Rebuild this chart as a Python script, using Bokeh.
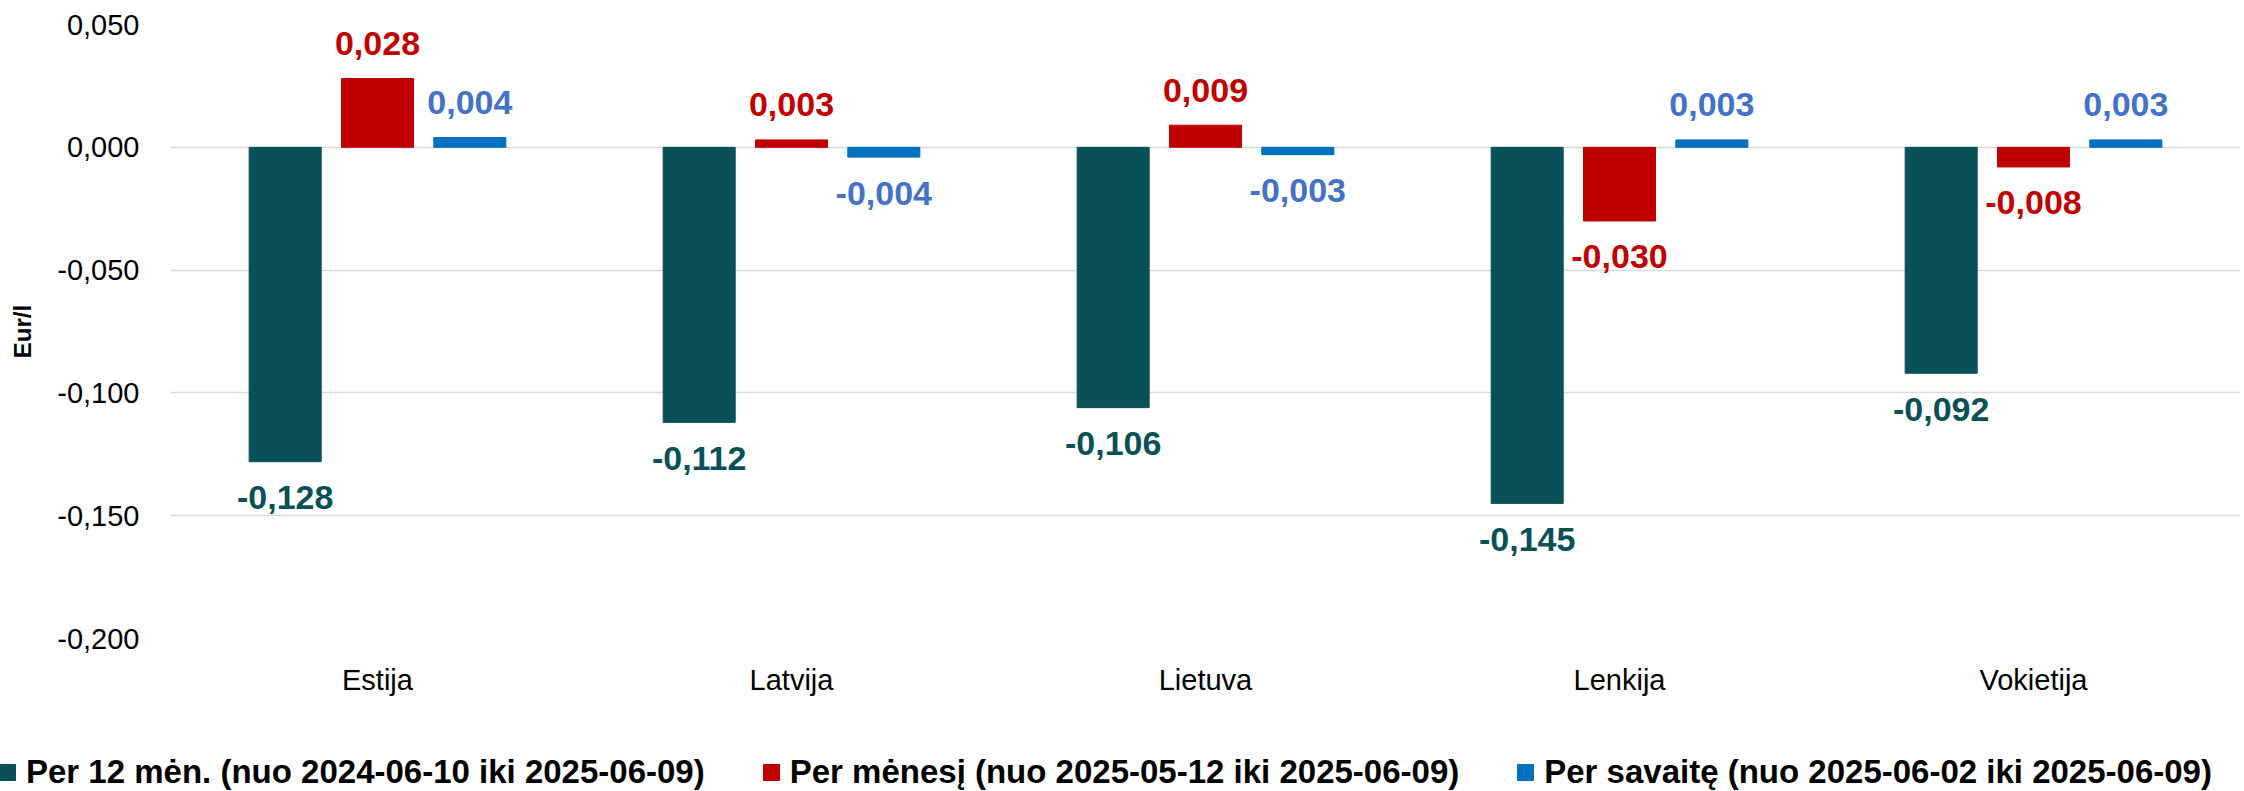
from bokeh.plotting import figure
from bokeh.layouts import column
from bokeh.models import (ColumnDataSource, FactorRange, Range1d, FixedTicker,
                          CustomJSTickFormatter, Legend, LegendItem)
from bokeh.transform import dodge
from bokeh.core.properties import value
from bokeh.embed import file_html
from bokeh.resources import INLINE

categories = ["Estija", "Latvija", "Lietuva", "Lenkija", "Vokietija"]
per_12_men = [-0.128, -0.112, -0.106, -0.145, -0.092]
per_menesi = [0.028, 0.003, 0.009, -0.030, -0.008]
per_savaite = [0.004, -0.004, -0.003, 0.003, 0.003]
series_names = [
    "Per 12 mėn. (nuo 2024-06-10 iki 2025-06-09)",
    "Per mėnesį (nuo 2025-05-12 iki 2025-06-09)",
    "Per savaitę (nuo 2025-06-02 iki 2025-06-09)",
]
y_ticks = [-0.2, -0.15, -0.1, -0.05, 0.0, 0.05]
y_label = "Eur/l"

bar_colors = ["#0A5057", "#C00000", "#0070C0"]
label_colors = ["#0A5057", "#C00000", "#4472C4"]
offsets = [-0.223, 0.0, 0.223]
BAR_W = 0.174
FONT = "Liberation Sans"
W = 2240

p = figure(x_range=FactorRange(*categories), y_range=Range1d(-0.2, 0.05),
           width=W, height=700, output_backend="svg", toolbar_location=None,
           min_border_top=24, min_border_left=170, min_border_right=0,
           min_border_bottom=62)

all_series = [per_12_men, per_menesi, per_savaite]
for i, vals in enumerate(all_series):
    src = ColumnDataSource(dict(
        cat=categories, val=vals,
        lbl=[f"{v:.3f}".replace(".", ",") for v in vals],
        off=[-35 if v >= 0 else 36 for v in vals],
    ))
    p.vbar(x=dodge("cat", offsets[i], range=p.x_range), top="val", bottom=0,
           width=BAR_W, source=src, fill_color=bar_colors[i],
           line_color=bar_colors[i])
    p.text(x=dodge("cat", offsets[i], range=p.x_range), y="val", text="lbl",
           y_offset="off", source=src, text_align="center", text_baseline="middle",
           text_font=value(FONT), text_font_size="34px", text_font_style="bold",
           text_color=label_colors[i])

p.yaxis.ticker = FixedTicker(ticks=y_ticks)
p.yaxis.formatter = CustomJSTickFormatter(code="return tick.toFixed(3).replace('.', ',');")
p.yaxis.axis_label = y_label
p.yaxis.axis_label_text_font = FONT
p.yaxis.axis_label_text_font_size = "24px"
p.yaxis.axis_label_text_font_style = "bold"
p.yaxis.axis_label_text_color = "#000000"
p.yaxis.axis_label_standoff = 18

for ax in (p.xaxis, p.yaxis):
    ax.axis_line_color = None
    ax.major_tick_line_color = None
    ax.minor_tick_line_color = None
    ax.major_label_text_font = FONT
    ax.major_label_text_font_size = "29px"
    ax.major_label_text_color = "#000000"
p.yaxis.major_label_standoff = 25
p.xaxis.major_label_standoff = 19

p.xgrid.grid_line_color = None
p.ygrid.grid_line_color = "#D9D9D9"
p.ygrid.grid_line_width = 1.5
p.outline_line_color = None
p.background_fill_color = "white"
p.border_fill_color = "white"

# legend strip below the chart (its bars fall outside its own visible range)
lg = figure(width=W, height=91, output_backend="svg", toolbar_location=None,
            x_range=FactorRange(*categories), y_range=Range1d(1, 2),
            x_axis_location=None, y_axis_location=None,
            min_border_top=0, min_border_left=0, min_border_right=0,
            min_border_bottom=0)
lg.grid.visible = False
lg.outline_line_color = None
items = []
for i, (vals, name) in enumerate(zip(all_series, series_names)):
    src = ColumnDataSource(dict(cat=categories, val=vals))
    r = lg.vbar(x="cat", top="val", bottom=0, width=BAR_W, source=src,
                fill_color=bar_colors[i], line_color=bar_colors[i])
    items.append(LegendItem(label=name, renderers=[r]))

legend = Legend(items=items, orientation="horizontal", location=(-3, 0),
                glyph_width=20, glyph_height=20, label_standoff=9, spacing=56,
                padding=0, margin=0, border_line_color=None,
                background_fill_alpha=0,
                label_text_font=FONT, label_text_font_size="33px",
                label_text_font_style="bold", label_text_color="#000000")
lg.add_layout(legend)

for fig in (p, lg):
    if "frame_align" in fig.properties():
        fig.frame_align = False

layout = column(p, lg, spacing=0)
open("out.html", "w").write(file_html(layout, INLINE))
